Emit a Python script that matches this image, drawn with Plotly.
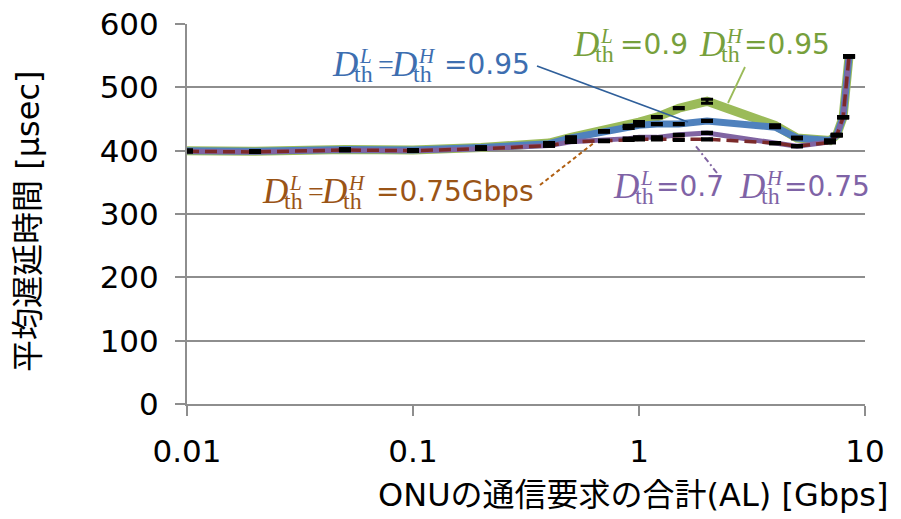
import plotly.graph_objects as go

# ---- data ----
x_al = [0.01, 0.02, 0.05, 0.1, 0.2, 0.4, 0.5, 0.7, 0.9, 1.0, 1.2, 1.5, 2, 4, 5, 7, 7.5, 8, 8.5]
green_09_095 = [400, 399, 402, 401, 405, 412, 421, 431, 439, 445, 453, 467, 478, 440, 420, 416, 425, 453, 549]
blue_095_095 = [400, 399, 402, 401, 405, 411, 420, 430, 436, 440, 442, 442, 447, 437, 420, 416, 425, 453, 549]
purple_07_075 = [399, 398, 401, 400, 403, 408, 414, 416, 419, 421, 421, 425, 428, 412, 407, 414, 424, 453, 549]
brown_075_075 = [399, 398, 401, 400, 403, 408, 414, 415, 417, 418, 418, 417, 418, 412, 407, 413, 424, 453, 549]
err_green = [1, 1, 1, 1, 1, 1, 1, 1, 1, 1, 1, 1, 3, 1, 1, 1, 1, 1, 1]
err_other = [1] * len(x_al)

x_ticks = [0.01, 0.1, 1, 10]
x_tick_text = ["0.01", "0.1", "1", "10"]
y_ticks = [0, 100, 200, 300, 400, 500, 600]

# ---- layout geometry (pixels) ----
W, H = 901, 519
L, R, T, B = 187, 865, 24, 404
PW, PH = R - L, B - T


def px(xp):
    return (xp - L) / PW


def py(yp):
    return (B - yp) / PH


SANS = "DejaVu Sans, Noto Sans CJK JP"
SERIF = "Liberation Serif"
GRID = "#8e8e8e"

fig = go.Figure()

series = [
    (green_09_095, "#9bbb59", 9, "solid"),
    (blue_095_095, "#4f81bd", 7, "solid"),
    (purple_07_075, "#8064a2", 5, "solid"),
    (brown_075_075, "#7b2a2a", 3.5, "12px,6px"),
]
for ys, col, w, dash in series:
    fig.add_trace(go.Scatter(x=x_al, y=ys, mode="lines",
                             line=dict(color=col, width=w, dash=dash),
                             showlegend=False, hoverinfo="skip"))

for ys, err in [(green_09_095, err_green), (blue_095_095, err_other),
                (purple_07_075, err_other), (brown_075_075, err_other)]:
    fig.add_trace(go.Scatter(x=x_al, y=ys, mode="markers",
                             marker=dict(size=1, color="rgba(0,0,0,0)"),
                             error_y=dict(type="data", array=err, visible=True,
                                          color="black", thickness=3, width=6),
                             showlegend=False, hoverinfo="skip"))

annotations = []


def piece(text, xl, yc, size, family, color, italic=False):
    t = f"<i>{text}</i>" if italic else text
    annotations.append(dict(text=t, x=px(xl), y=py(yc), xref="paper", yref="paper",
                            xanchor="left", yanchor="middle", showarrow=False,
                            font=dict(size=size, family=family, color=color)))


def dth(xl, yc, sup, color, sup_dx=27, th_dx=22):
    piece("D", xl, yc, 35, SERIF, color, italic=True)
    piece(sup, xl + sup_dx, yc - 8, 21, SERIF, color, italic=True)
    piece("th", xl + th_dx, yc + 10, 24, SERIF, color)


def math_label(items, yc, color):
    for kind, val, xl in items:
        if kind == "D":
            dth(xl, yc, val, color)
        elif kind == "eq":
            piece(val, xl, yc, 28, SERIF, color)
        else:
            piece(val, xl, yc, 28, SANS, color)


c_blue, c_green, c_brown, c_purple = "#3d6eb0", "#77a03c", "#9a5416", "#7f63a6"
math_label([("D", "L", 330), ("eq", "=", 376), ("D", "H", 389), ("t", "=0.95", 442)], 64, c_blue)
math_label([("D", "L", 571), ("t", "=0.9", 618), ("D", "H", 697), ("t", "=0.95", 742)], 44, c_green)
math_label([("D", "L", 260), ("eq", "=", 306), ("D", "H", 319), ("t", "=0.75Gbps", 374)], 191, c_brown)
math_label([("D", "L", 611), ("t", "=0.7", 654), ("D", "H", 737), ("t", "=0.75", 782)], 186, c_purple)

# axis titles
annotations.append(dict(text="平均遅延時間 [μsec]", x=px(28), y=py(222), xref="paper", yref="paper",
                        xanchor="center", yanchor="middle", textangle=-90, showarrow=False,
                        font=dict(size=32, family=SANS, color="black")))
annotations.append(dict(text="ONUの通信要求の合計(AL) [Gbps]", x=px(890), y=py(495), xref="paper",
                        yref="paper", xanchor="right", yanchor="middle", showarrow=False,
                        font=dict(size=32, family=SANS, color="black")))

shapes = []


def leader(x0, y0, x1, y1, color, dash="solid", width=1.8):
    shapes.append(dict(type="line", xref="paper", yref="paper", x0=px(x0), y0=py(y0),
                       x1=px(x1), y1=py(y1), line=dict(color=color, width=width, dash=dash)))


leader(537, 66, 688, 122, "#2f5f9a")
leader(745, 67, 728, 103, "#9bbb59")
leader(540, 185, 595, 142, "#b05f12", dash="4px,3px", width=2)
leader(717, 173, 695, 145, "#8064a2", dash="6px,3px,2px,3px", width=2)

fig.update_layout(
    width=W, height=H,
    margin=dict(l=L, r=W - R, t=T, b=H - B, autoexpand=False),
    paper_bgcolor="white", plot_bgcolor="white",
    showlegend=False,
    annotations=annotations, shapes=shapes,
    font=dict(family=SANS, size=31, color="black"),
    xaxis=dict(type="log", range=[-2, 1], tickvals=x_ticks, ticktext=x_tick_text,
               showgrid=False, zeroline=False, showline=True, linecolor=GRID, linewidth=2,
               ticks="outside", ticklen=10, tickwidth=2, tickcolor=GRID,
               ticklabelstandoff=9, automargin=False, ticklabeloverflow="allow",
               tickfont=dict(family=SANS, size=31, color="black")),
    yaxis=dict(range=[0, 600], tickvals=y_ticks, showgrid=True, gridcolor=GRID, gridwidth=2,
               zeroline=False, showline=True, linecolor=GRID, linewidth=2,
               ticks="outside", ticklen=10, tickwidth=2, tickcolor=GRID,
               ticklabelstandoff=10, automargin=False, ticklabeloverflow="allow",
               tickfont=dict(family=SANS, size=31, color="black")),
)

# remove the default 8px page margin so the figure sits at the window's top-left corner
fig.write_html("out.html", config={"displayModeBar": False},
               post_script="document.body.style.margin='0px';")
